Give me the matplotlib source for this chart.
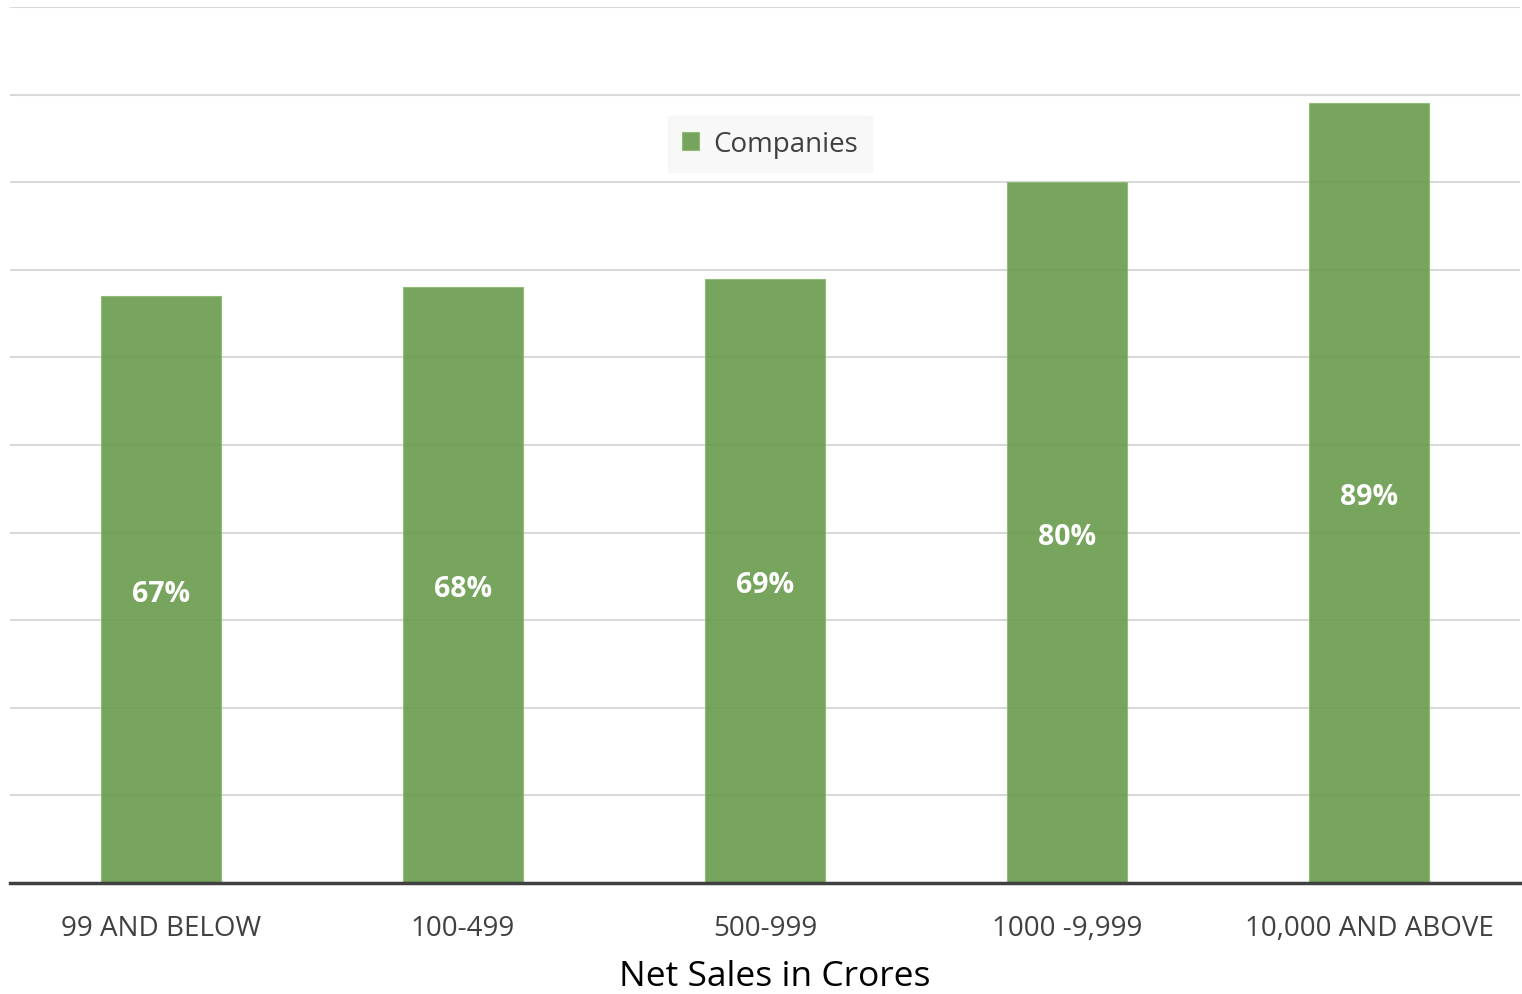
import matplotlib.pyplot as plt
import numpy as np

plt.rcParams['font.family'] = ['Open Sans', 'DejaVu Sans']

categories = ["99 AND BELOW", "100-499", "500-999", "1000 -9,999", "10,000 AND ABOVE"]
companies = [67, 68, 69, 80, 89]
labels = ["67%", "68%", "69%", "80%", "89%"]

fig = plt.figure(figsize=(15.22, 9.95), dpi=100)
ax = fig.add_axes([10 / 1522, 1 - 884 / 995, 1510 / 1522, 876 / 995])

x = np.arange(len(categories))
bars = ax.bar(x, companies, width=0.4, color='#6b9d4f', alpha=0.92,
              edgecolor='#8dbb74', linewidth=0.8, label='Companies', zorder=2)

# Werte mittig in die Balken schreiben
for b, lab in zip(bars, labels):
    ax.text(b.get_x() + b.get_width() / 2, b.get_height() / 2 - 0.4, lab,
            ha='center', va='center', color='white', fontsize=20.5,
            fontweight='bold', zorder=3)

ax.set_xlim(-0.5, len(categories) - 0.5)
ax.set_ylim(0, 100)
ax.set_yticks(np.arange(0, 101, 10))
ax.yaxis.grid(True, color='#d9d9d9', linewidth=1.5, zorder=0)
ax.set_axisbelow(True)
ax.tick_params(axis='y', left=False, labelleft=False)
ax.tick_params(axis='x', length=0, pad=22, labelsize=20, labelcolor='#404040')
ax.set_xticks(x)
ax.set_xticklabels(categories)

for s in ['top', 'right', 'left']:
    ax.spines[s].set_visible(False)
ax.spines['bottom'].set_color('#404040')
ax.spines['bottom'].set_linewidth(2.5)
ax.spines['bottom'].set_zorder(4)

ax.set_xlabel("Net Sales in Crores", fontsize=25.5, color='black')
ax.xaxis.set_label_coords(765 / 1510, -76 / 876)

leg = ax.legend(loc='center', bbox_to_anchor=(760 / 1510, (884 - 145) / 876),
                frameon=True, fontsize=20, handlelength=0.6, handleheight=0.6,
                handletextpad=0.5, borderpad=0.5, fancybox=False)
leg.get_frame().set_facecolor('#f7f7f7')
leg.get_frame().set_edgecolor('#f7f7f7')
for t in leg.get_texts():
    t.set_color('#404040')

fig.savefig("out.png", dpi=100)
